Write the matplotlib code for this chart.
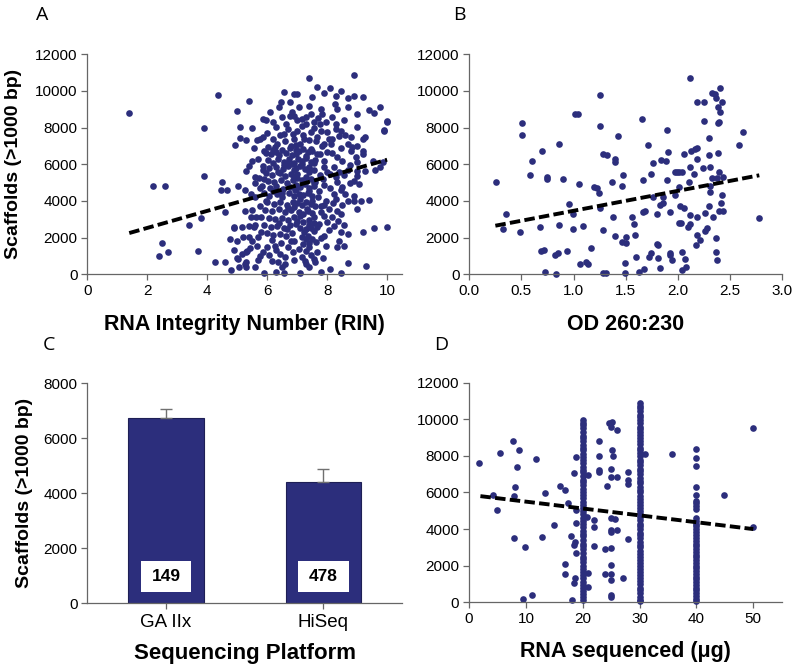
import matplotlib.pyplot as plt
import matplotlib.patches as patches
import numpy as np

plt.rcParams['font.family'] = ['Liberation Sans', 'DejaVu Sans']

# Colores.
navy = '#2c2e7c'
spine_c = '#666666'

# Panel A: RIN vs scaffolds (x, y).
rin_pts = [
    (1.4, 8800), (2.2, 4800), (2.6, 4800), (2.5, 1700), (2.4, 1000), (2.7, 1200), (3.4, 2700),
    (3.7, 1270), (3.8, 3050), (3.9, 8000), (3.9, 5350), (4.35, 9800), (4.5, 5050), (4.45, 4600),
    (4.65, 4600), (4.6, 3400), (4.27, 690), (4.8, 240), (4.75, 1900), (4.9, 2500), (4.9, 1300),
    (5.0, 870), (5.07, 420), (5.28, 420), (5.3, 690), (5.3, 1200), (5.42, 1420),
    (4.98, 8900), (5.38, 9450), (5.08, 8020), (4.92, 7070), (5.08, 7420), (5.5, 8000), (5.67, 7330),
    (5.76, 7400), (5.29, 5620), (5.58, 5330), (5.03, 4840), (5.27, 4600), (5.72, 5240), (5.27, 3470),
    (5.5, 3510), (5.47, 3150), (5.64, 3150), (4.88, 2560), (5.16, 2560), (5.38, 2650), (5.55, 2560),
    (4.99, 1840), (5.2, 2050), (5.38, 2050), (5.7, 2050), (5.16, 1110), (5.34, 1290), (4.58, 650),
    (5.02, 840), (5.27, 560), (5.58, 380), (5.89, 50), (5.75, 1000), (5.65, 1550), (5.6, 4200),
    (5.45, 4400), (5.75, 3700), (5.7, 6300), (5.55, 6900), (5.85, 7500), (5.4, 5900), (5.75, 4700),
    (5.9, 5200), (5.85, 8450), (5.95, 8400), (5.6, 2700), (5.8, 2300), (5.5, 1800), (5.85, 1200),
    (5.7, 800), (5.5, 6200), (5.3, 7350), (5.9, 6700), (5.8, 3100), (5.95, 4000), (5.85, 5700),
    (5.6, 5000),
    (6.1, 8830), (6.55, 9930), (6.45, 9380), (6.9, 9840), (6.83, 8850), (6.75, 8620), (6.48, 8580),
    (6.62, 8180), (6.28, 8060), (6.7, 7920), (6.42, 7610), (6.18, 7380), (6.58, 7290), (6.86, 7660),
    (6.33, 7120), (6.04, 6920), (6.26, 6960), (6.51, 6780), (6.77, 6880), (6.96, 7030), (5.97, 6610),
    (6.13, 6540), (6.41, 6480), (6.62, 6620), (6.84, 6490), (6.02, 6230), (6.21, 6090), (6.36, 6270),
    (6.56, 6140), (6.74, 6310), (6.91, 6080), (5.87, 5880), (6.07, 5820), (6.29, 5860), (6.52, 5740),
    (6.69, 5910), (6.88, 5700), (5.96, 5520), (6.16, 5390), (6.42, 5510), (6.61, 5340), (6.81, 5460),
    (6.03, 5110), (6.24, 5040), (6.46, 5160), (6.66, 4990), (6.87, 5120), (5.82, 4810), (6.11, 4690),
    (6.31, 4820), (6.54, 4640), (6.76, 4760), (6.94, 4590), (5.88, 4410), (6.06, 4290), (6.32, 4360),
    (6.49, 4240), (6.72, 4410), (6.91, 4280), (6.01, 3940), (6.22, 3860), (6.44, 3920), (6.66, 3790),
    (6.86, 3960), (5.94, 3510), (6.17, 3440), (6.39, 3560), (6.61, 3390), (6.79, 3520), (6.06, 3090),
    (6.26, 2990), (6.48, 3060), (6.71, 2940), (6.89, 3110), (5.91, 2710), (6.12, 2590), (6.34, 2660),
    (6.56, 2540), (6.76, 2710), (6.01, 2240), (6.21, 2160), (6.44, 2210), (6.64, 2090), (6.84, 2260),
    (6.16, 1880), (6.0, 1470), (6.25, 1560), (6.07, 1050), (6.44, 1110), (6.59, 930), (6.61, 560),
    (6.36, 650), (6.28, 110), (6.55, 50), (6.5, 380), (6.7, 1500), (6.85, 1200), (6.9, 800),
    (6.8, 1800), (6.45, 1700), (6.3, 1300), (6.15, 700), (6.55, 7650), (6.2, 6800), (6.65, 6000),
    (6.35, 5600), (6.5, 4450), (6.2, 4550), (6.7, 3600), (6.4, 2800), (6.65, 2450), (6.9, 5300),
    (6.55, 5950), (6.3, 6650), (6.0, 7700), (6.4, 9100), (6.75, 9400), (6.2, 8300),
    (6.95, 6800), (7.05, 6700), (7.2, 6850), (7.35, 6650), (7.5, 6750), (7.02, 6300), (7.15, 6200),
    (7.3, 6350), (7.45, 6150), (7.6, 6250), (6.97, 5800), (7.1, 5900), (7.25, 5750), (7.4, 5850),
    (7.55, 5700), (7.0, 5250), (7.15, 5150), (7.3, 5300), (7.45, 5200), (7.6, 5050), (6.95, 4850),
    (7.1, 4750), (7.25, 4900), (7.4, 4700), (7.55, 4800), (7.05, 4400), (7.2, 4300), (7.35, 4450),
    (7.5, 4250), (7.0, 3900), (7.15, 3800), (7.3, 3950), (7.45, 3850), (7.6, 3700), (7.05, 3400),
    (7.2, 3300), (7.35, 3450), (7.5, 3350), (7.0, 2900), (7.2, 2850), (7.4, 2950), (7.55, 2800),
    (7.1, 2500), (7.3, 2450), (7.45, 2550), (7.15, 2050), (7.35, 2100), (7.5, 1950), (7.2, 1650),
    (7.4, 1700), (7.3, 1250), (7.45, 1050), (7.25, 700), (7.4, 400), (7.6, 650), (7.0, 8400),
    (7.15, 8100), (7.3, 8600), (7.55, 8000), (7.7, 8500), (7.2, 7600), (7.4, 7300), (7.65, 7500),
    (7.8, 7800), (7.9, 7100), (8.05, 7400),
    (7.39, 10710), (8.88, 10890), (6.98, 9835), (7.67, 10200), (7.89, 9870), (8.1, 10145),
    (8.47, 9980), (7.5, 9650), (8.28, 9745), (8.88, 9745), (9.18, 9650), (7.06, 9108), (7.39, 9200),
    (7.78, 9017), (8.34, 9017), (8.68, 9108), (9.38, 8963), (9.77, 9145), (9.57, 8780), (6.89, 8653),
    (7.17, 8472), (7.45, 8745), (7.84, 8745), (8.17, 8563), (8.99, 8745), (9.99, 8326), (7.28, 8200),
    (7.56, 8290), (7.76, 8200), (7.95, 8290), (8.29, 8200), (8.45, 7835), (8.99, 8017), (9.9, 7835),
    (7.0, 7835), (7.45, 7745), (8.0, 7745), (8.4, 7563), (6.89, 7380), (7.23, 7380), (7.62, 7290),
    (8.17, 7380), (8.79, 7470), (9.21, 7380), (9.27, 7470), (6.78, 7017), (7.11, 7108), (7.45, 6835),
    (7.84, 7017), (8.14, 7108), (8.68, 7108), (8.84, 6926), (9.01, 7017), (9.18, 6744), (6.95, 6563),
    (7.28, 6471), (7.67, 6563), (7.99, 6653), (8.34, 6380), (8.51, 6200), (8.95, 6380), (9.18, 6563),
    (6.84, 6017), (7.17, 6017), (7.56, 6054), (7.89, 5872), (8.23, 5835), (8.76, 5980), (9.01, 6108),
    (9.77, 5872), (9.54, 6163), (9.85, 6100), (7.0, 5472), (7.39, 5563), (7.76, 5436), (8.1, 5472),
    (8.4, 5563), (8.56, 5436), (9.01, 5654), (9.25, 5617), (9.01, 5380), (7.23, 5108), (7.56, 4963),
    (7.89, 4890), (8.34, 5017), (8.9, 5108), (9.07, 4926), (6.95, 4654), (7.39, 4563), (7.73, 4563),
    (8.23, 4380), (8.51, 4745), (7.11, 4108), (7.5, 4017), (7.95, 4017), (8.29, 4108), (8.68, 4017),
    (8.9, 4017), (9.12, 4017), (9.4, 4054), (8.88, 4290), (6.89, 3653), (7.34, 3563), (7.78, 3745),
    (8.06, 3563), (8.34, 3472), (9.01, 3563), (7.11, 3200), (7.56, 3108), (7.89, 3200), (8.17, 3108),
    (8.45, 3290), (6.95, 2745), (7.39, 2708), (7.73, 2745), (8.0, 2836), (8.23, 2653), (8.56, 2708),
    (7.23, 2290), (7.56, 2380), (7.89, 2108), (9.57, 2527), (9.99, 2600), (9.18, 2327), (8.68, 2200),
    (6.89, 1836), (7.28, 1927), (7.62, 1745), (7.06, 1380), (7.39, 1472), (7.67, 1200), (8.34, 1508),
    (7.17, 927), (7.56, 836), (7.28, 563), (7.09, 54), (7.78, 109), (8.1, 290), (8.47, 54),
    (8.7, 600), (9.29, 473),
    (8.2, 3900), (8.1, 4700), (8.3, 5300), (8.15, 6600), (8.45, 6900), (8.6, 7600), (8.3, 7900),
    (8.55, 8400), (8.25, 9300), (8.7, 9600), (8.8, 6700), (8.7, 5700), (8.6, 4400), (8.5, 3800),
    (8.35, 2900), (8.45, 2300), (8.4, 1800), (8.55, 1550), (8.75, 5000), (8.45, 4600), (7.75, 6550),
    (7.9, 6200), (8.0, 5600), (7.85, 5200), (7.7, 4200), (7.9, 3800), (7.8, 3400), (7.65, 2600),
    (7.8, 2000), (7.95, 1550), (7.85, 900), (8.05, 2400), (9.89, 7870), (10.0, 8350), (9.58, 5690),
]
rin_trend_x = [1.4, 10.0]
rin_trend_y = [2250, 6250]

# Panel B: OD 260:230 vs scaffolds.
od_pts = [
    (0.256, 5020), (0.352, 3310), (0.32, 2470), (0.49, 2290), (0.508, 8250), (0.508, 7600),
    (0.604, 6180), (0.582, 5440), (0.694, 6750), (0.742, 5290), (0.742, 5180), (0.68, 2560),
    (0.688, 1270), (0.72, 1330), (0.722, 110), (0.831, 40), (0.818, 1060), (0.853, 1180),
    (0.863, 7090), (0.863, 2710), (0.895, 5200), (0.933, 1270), (0.956, 3850), (0.994, 2470),
    (0.99, 3290), (1.01, 8760), (1.04, 8750), (1.055, 4910), (1.093, 2650), (1.06, 570),
    (1.12, 690), (1.14, 570), (1.17, 1420), (1.253, 9780), (1.253, 8110), (1.195, 4780),
    (1.22, 4730), (1.24, 4450), (1.253, 3640), (1.28, 2400), (1.285, 6550), (1.317, 6510),
    (1.285, 90), (1.31, 55), (1.37, 5020), (1.397, 6290), (1.4, 6150), (1.38, 3150),
    (1.394, 2090), (1.422, 7550), (1.46, 1780), (1.5, 1690), (1.47, 5420), (1.464, 4820),
    (1.5, 2060), (1.49, 600), (1.49, 90), (1.56, 3150), (1.59, 2150), (1.595, 970), (1.58, 2730),
    (1.656, 8450), (1.662, 5150), (1.669, 3420), (1.685, 3460), (1.63, 130), (1.678, 270),
    (1.71, 7050), (1.742, 5460), (1.758, 6090), (1.765, 4240), (1.726, 970), (1.74, 1150),
    (1.797, 3310), (1.81, 870), (1.81, 1600), (1.797, 1660), (1.83, 330), (1.838, 6240),
    (1.883, 6200), (1.83, 3780), (1.86, 3870), (1.86, 4240), (1.893, 7850), (1.908, 6690),
    (1.893, 5150), (1.925, 3420), (1.92, 1150), (1.92, 1060), (1.94, 760), (1.975, 4330),
    (1.97, 5600), (1.99, 5600), (2.01, 5600), (2.04, 5600), (2.007, 4780), (2.02, 3750),
    (2.06, 3600), (2.007, 2780), (2.03, 2820), (2.036, 1200), (2.04, 240), (2.068, 820),
    (2.08, 420), (2.06, 6580), (2.116, 5840), (2.13, 6750), (2.16, 6840), (2.18, 6910),
    (2.15, 5470), (2.11, 5020), (2.12, 3240), (2.116, 2730), (2.1, 2600), (2.18, 9420),
    (2.25, 9420), (2.12, 10710), (2.186, 6270), (2.244, 5780), (2.18, 3110), (2.18, 2150),
    (2.21, 1870), (2.173, 1600), (2.253, 8360), (2.3, 7420), (2.3, 6510), (2.307, 5840),
    (2.323, 5240), (2.307, 4820), (2.307, 4510), (2.263, 3360), (2.3, 3750), (2.276, 2510),
    (2.263, 2360), (2.323, 9870), (2.355, 9820), (2.366, 9600), (2.403, 10150), (2.42, 9380),
    (2.38, 9150), (2.403, 8870), (2.394, 8330), (2.387, 8240), (2.38, 6600), (2.397, 5580),
    (2.378, 5270), (2.436, 5330), (2.42, 4330), (2.413, 3910), (2.397, 3470), (2.43, 3470),
    (2.34, 3150), (2.365, 1960), (2.365, 1240), (2.378, 780), (2.583, 7040), (2.628, 7760),
    (2.78, 3070),
]
od_trend_x = [0.25, 2.78]
od_trend_y = [2650, 5400]

# Panel C: plataformas.
platforms = ['GA IIx', 'HiSeq']
platform_mean = [6730, 4420]
platform_err = [330, 450]
platform_n = ['149', '478']

# Panel D: RNA secuenciado.
rna_pts = [
    (1.8, 7630), (4.3, 5860), (5.0, 5040), (5.45, 8180), (7.8, 8810), (7.9, 5810), (8.15, 6280),
    (7.9, 3500), (8.85, 8320), (8.5, 7390), (9.9, 3000), (9.55, 200), (11.0, 400), (11.7, 7810),
    (13.4, 5970), (12.8, 3590), (15.0, 4230), (16.0, 6350), (16.9, 6140), (16.9, 2090),
    (16.9, 1570), (17.4, 5410), (17.9, 3640), (18.1, 130), (18.5, 7080), (18.5, 3130),
    (18.6, 1310), (18.4, 1050), (18.8, 7960), (18.9, 5040), (18.9, 4320), (18.9, 2710),
    (18.7, 3300), (20.7, 4680), (21.0, 6960), (21.0, 1580), (21.0, 860), (21.9, 4500),
    (22.0, 4130), (22.0, 3080), (22.9, 8810), (22.9, 7990), (22.9, 7230), (22.9, 7140),
    (23.9, 1550), (24.0, 2900), (24.3, 6360), (24.7, 9820), (25.1, 9870), (24.9, 9600),
    (25.1, 8320), (25.3, 8010), (25.0, 7270), (25.0, 6830), (25.0, 4590), (25.6, 4530),
    (25.0, 3950), (25.0, 3860), (25.0, 2950), (25.0, 2040), (25.0, 1550), (25.0, 1220),
    (25.0, 400), (25.0, 310), (26.0, 9420), (26.0, 6870), (26.0, 3950), (27.0, 1310),
    (28.0, 7140), (28.0, 6680), (28.0, 6460), (28.0, 3440), (31.0, 8090), (35.7, 8090),
    (44.9, 5850), (50.0, 9510), (50.0, 4130),
]
# Columnas densas en 20, 30 y 40 ug.
col20 = [9950, 9800, 9700, 9500, 9300, 9100, 8950, 8800, 8600, 8450, 8300, 8100, 7950, 7800,
         7600, 7400, 7250, 7100, 6900, 6700, 6550, 6400, 6200, 6000, 5850, 5700, 5500, 5300,
         5150, 5000, 4800, 4600, 4450, 4300, 4100, 3900, 3750, 3600, 3400, 3200, 3050, 2900,
         2700, 2500, 2350, 2200, 2000, 1800, 1650, 1500, 1300, 1100, 950, 800, 600, 450, 300, 100]
col30 = [10900, 10750, 10600, 10450, 10250, 10100, 9950, 9800, 9600, 9450, 9300, 9150, 8950,
         8800, 8650, 8450, 8300, 8150, 8000, 7800, 7650, 7500, 7300, 7150, 7000, 6800, 6650,
         6500, 6300, 6150, 6000, 5800, 5650, 5500, 5300, 5150, 5000, 4800, 4650, 4500, 4300,
         4150, 4000, 3800, 3650, 3500, 3300, 3150, 3000, 2800, 2650, 2500, 2300, 2150, 2000,
         1800, 1650, 1500, 1300, 1150, 1000, 800, 650, 500, 300, 150, 50]
col40 = [8350, 7900, 7450, 6300, 5850, 5550, 5400, 5250, 5100, 4600, 4450, 4300, 4150, 4000,
         3850, 3650, 3500, 3350, 3200, 3050, 2900, 2750, 2600, 2450, 2300, 2150, 2000, 1850,
         1700, 1550, 1400, 1250, 1100, 950, 800, 650, 500, 350, 200, 50]
rna_trend_x = [2.0, 50.0]
rna_trend_y = [5800, 4000]


def estilo( ax ) :
    for s in ['top', 'right'] :
        ax.spines[ s ].set_visible( False )
    for s in ['left', 'bottom'] :
        ax.spines[ s ].set_color( spine_c )
        ax.spines[ s ].set_linewidth( 0.9 )
    ax.tick_params( direction = 'out', length = 4, width = 0.9, color = spine_c,
                    labelsize = 11, pad = 3 )


def etiquetas( ax , xl , yl = None ) :
    ax.set_xlabel( xl , fontsize = 15.5 , fontweight = 'bold' )
    ax.xaxis.set_label_coords( 0.5 , -0.23 )
    ax.xaxis.label.set_va( 'center' )
    if yl :
        ax.set_ylabel( yl , fontsize = 14 , fontweight = 'bold' )
        ax.yaxis.set_label_coords( -0.233 , 0.5 )
        ax.yaxis.label.set_va( 'center' )


fig = plt.figure( figsize = ( 7.97 , 6.71 ) , dpi = 100 )

axA = fig.add_axes( [ 0.1095 , 0.5912 , 0.395 , 0.3279 ] )
axB = fig.add_axes( [ 0.5888 , 0.5912 , 0.3927 , 0.3279 ] )
axC = fig.add_axes( [ 0.1095 , 0.1009 , 0.395 , 0.3279 ] )
axD = fig.add_axes( [ 0.5885 , 0.1024 , 0.3923 , 0.3273 ] )

dash = ( 0 , ( 2.7 , 1.1 ) )
ms = 4.8

# A
A = np.array( rin_pts )
axA.plot( A[ : , 0 ] , A[ : , 1 ] , 'o' , color = navy , ms = ms , mew = 0 , clip_on = False )
axA.plot( rin_trend_x , rin_trend_y , color = 'k' , lw = 2.8 , linestyle = dash )
axA.set_xlim( 0 , 10.5 )
axA.set_ylim( 0 , 12000 )
axA.set_xticks( [ 0 , 2 , 4 , 6 , 8 , 10 ] )
axA.set_yticks( range( 0 , 12001 , 2000 ) )
estilo( axA )
etiquetas( axA , 'RNA Integrity Number (RIN)' , 'Scaffolds (>1000 bp)' )

# B
B = np.array( od_pts )
axB.plot( B[ : , 0 ] , B[ : , 1 ] , 'o' , color = navy , ms = ms , mew = 0 , clip_on = False )
axB.plot( od_trend_x , od_trend_y , color = 'k' , lw = 2.8 , linestyle = dash )
axB.set_xlim( 0 , 3.0 )
axB.set_ylim( 0 , 12000 )
axB.set_xticks( [ 0.0 , 0.5 , 1.0 , 1.5 , 2.0 , 2.5 , 3.0 ] )
axB.set_yticks( range( 0 , 12001 , 2000 ) )
estilo( axB )
etiquetas( axB , 'OD 260:230' )

# C
pos = [ 1 , 2 ]
axC.bar( pos , platform_mean , width = 0.48 , color = navy , edgecolor = '#1e1f55' , linewidth = 0.8 ,
         zorder = 2 )
axC.errorbar( pos , platform_mean , yerr = [ [ 0 , 0 ] , platform_err ] , fmt = 'none' ,
              ecolor = '#707070' , elinewidth = 1.0 , capsize = 4 , capthick = 1.0 , zorder = 3 )
for p , n in zip( pos , platform_n ) :
    axC.add_patch( patches.Rectangle( ( p - 0.16 , 400 ) , 0.32 , 1150 , facecolor = 'white' ,
                                      edgecolor = 'none' , zorder = 4 ) )
    axC.text( p , 975 , n , ha = 'center' , va = 'center' , fontsize = 12.5 , fontweight = 'bold' ,
              zorder = 5 )
axC.set_xlim( 0.5 , 2.5 )
axC.set_ylim( 0 , 8000 )
axC.set_yticks( range( 0 , 8001 , 2000 ) )
axC.set_xticks( pos )
axC.set_xticklabels( platforms )
estilo( axC )
axC.tick_params( axis = 'x' , labelsize = 13.5 , pad = 4 )
axC.set_xlabel( 'Sequencing Platform' , fontsize = 16 , fontweight = 'bold' )
axC.xaxis.set_label_coords( 0.5 , -0.226 )
axC.xaxis.label.set_va( 'center' )
axC.set_ylabel( 'Scaffolds (>1000 bp)' , fontsize = 14 , fontweight = 'bold' )
axC.yaxis.set_label_coords( -0.2 , 0.5 )
axC.yaxis.label.set_va( 'center' )

# D
D = np.array( rna_pts )
axD.plot( D[ : , 0 ] , D[ : , 1 ] , 'o' , color = navy , ms = ms , mew = 0 , clip_on = False )
for cx , cy in ( ( 20 , col20 ) , ( 30 , col30 ) , ( 40 , col40 ) ) :
    axD.plot( [ cx ] * len( cy ) , cy , 'o' , color = navy , ms = ms , mew = 0 , clip_on = False )
axD.plot( rna_trend_x , rna_trend_y , color = 'k' , lw = 2.8 , linestyle = dash )
axD.set_xlim( 0 , 55 )
axD.set_ylim( 0 , 12000 )
axD.set_xticks( range( 0 , 51 , 10 ) )
axD.set_yticks( range( 0 , 12001 , 2000 ) )
estilo( axD )
etiquetas( axD , 'RNA sequenced (\u03bcg)' )
axD.xaxis.set_label_coords( 0.5 , -0.226 )

# Letras de los paneles.
for txt , x , y in ( ( 'A' , 42.5 , 14.5 ) , ( 'B' , 459 , 14.5 ) , ( 'C' , 49 , 344.5 ) , ( 'D' , 441 , 344.5 ) ) :
    fig.text( x / 797 , 1 - y / 671 , txt , fontsize = 14 , ha = 'center' , va = 'center' ,
              family = [ 'Open Sans' , 'DejaVu Sans' ] )

fig.savefig( 'out.png' , dpi = 100 )
